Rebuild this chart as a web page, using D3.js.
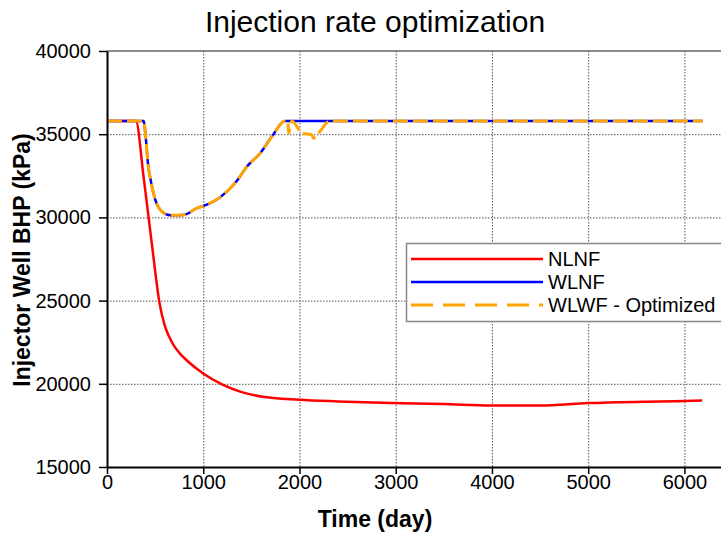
<!DOCTYPE html>
<html>
<head>
<meta charset="utf-8">
<script src="https://cdn.jsdelivr.net/npm/d3@7/dist/d3.min.js"></script>
<style>
  body { margin: 0; background: #fff; }
  svg { font-family: "Liberation Sans", Arial, sans-serif; display: block; }
</style>
</head>
<body>
<div id="chart"></div>
<script>
// tick values
var xTicks = [0, 1000, 2000, 3000, 4000, 5000, 6000];
var yTicks = [15000, 20000, 25000, 30000, 35000, 40000];

// NLNF (day, kPa)
var timeNLNF = [0, 300, 380, 465, 546, 595, 640, 700, 760, 830, 1000, 1200, 1400, 1600, 2000, 2400, 2950, 3500, 4000, 4500, 5000, 5570, 6000, 6185];
var bhpNLNF  = [35800, 35800, 32450, 28450, 24850, 23600, 22900, 22250, 21800, 21400, 20620, 19950, 19500, 19240, 19040, 18940, 18840, 18780, 18700, 18700, 18840, 18920, 18960, 19000];

// WLNF
var timeWLNF = [0, 380, 405, 425, 457, 502, 571, 657, 795, 935, 1003, 1177, 1350, 1454, 1592, 1713, 1851, 6190];
var bhpWLNF  = [35800, 35800, 34660, 33260, 32150, 31050, 30350, 30135, 30150, 30555, 30690, 31216, 32200, 33055, 33860, 34855, 35800, 35800];

// WLWF - Optimized
var timeWLWF = [0, 380, 405, 425, 457, 502, 571, 657, 795, 935, 1003, 1177, 1350, 1454, 1592, 1713, 1851, 1880, 1886, 1921, 2025, 2129, 2145, 2197, 2319, 6190];
var bhpWLWF  = [35800, 35800, 34660, 33260, 32150, 31050, 30350, 30135, 30150, 30555, 30690, 31216, 32200, 33055, 33860, 34855, 35800, 35800, 35060, 35800, 35060, 34960, 34760, 35060, 35800, 35800];

var seriesNames = ["NLNF", "WLNF", "WLWF - Optimized"];

var W = 721, H = 536;
var svg = d3.select("#chart").append("svg").attr("width", W).attr("height", H);

var x = d3.scaleLinear().domain([0, 6380]).range([107, 721]);
var y = d3.scaleLinear().domain([15000, 40000]).range([467, 51]);

// grid
svg.append("g").selectAll("line")
   .data(xTicks.slice(1))
   .enter().append("line")
   .attr("x1", d => x(d) + 0.5).attr("x2", d => x(d) + 0.5)
   .attr("y1", y(40000)).attr("y2", y(15000))
   .attr("stroke", "#555").attr("stroke-width", 1).attr("stroke-dasharray", "1.5,1.5");

svg.append("g").selectAll("line")
   .data([20000, 25000, 30000, 35000])
   .enter().append("line")
   .attr("x1", x(0)).attr("x2", W)
   .attr("y1", d => y(d) + 0.5).attr("y2", d => y(d) + 0.5)
   .attr("stroke", "#555").attr("stroke-width", 1).attr("stroke-dasharray", "1.5,1.5");

// top border
svg.append("line")
   .attr("x1", x(0)).attr("x2", W)
   .attr("y1", y(40000)).attr("y2", y(40000))
   .attr("stroke", "#666").attr("stroke-width", 1.5);

// lines
function toPts(ts, vs) { return ts.map((t, i) => [t, vs[i]]); }
var line = d3.line().x(d => x(d[0])).y(d => y(d[1])).curve(d3.curveMonotoneX);

svg.append("path").datum(toPts(timeNLNF, bhpNLNF))
   .attr("d", line).attr("fill", "none").attr("stroke", "#ff0000").attr("stroke-width", 2.5);
svg.append("path").datum(toPts(timeWLNF, bhpWLNF))
   .attr("d", line).attr("fill", "none").attr("stroke", "#0000ff").attr("stroke-width", 2.5);
svg.append("path").datum(toPts(timeWLWF, bhpWLWF))
   .attr("d", line).attr("fill", "none").attr("stroke", "#ffa500").attr("stroke-width", 3)
   .attr("stroke-dasharray", "15,5");

// axes
var fmt = d3.format("d");
var yAxis = svg.append("g")
   .attr("transform", `translate(${x(0)},0)`)
   .call(d3.axisLeft(y).tickValues(yTicks).tickFormat(fmt).tickSize(8).tickPadding(8).tickSizeOuter(0));
yAxis.select(".domain").attr("stroke", "#000").attr("stroke-width", 2);
yAxis.selectAll(".tick line").attr("stroke", "#000").attr("stroke-width", 1.5);
yAxis.selectAll("text").attr("font-size", 20).attr("fill", "#000").attr("font-family", "Liberation Sans, Arial, sans-serif");

var xAxis = svg.append("g")
   .attr("transform", `translate(0,${y(15000)})`)
   .call(d3.axisBottom(x).tickValues(xTicks).tickFormat(fmt).tickSize(7).tickPadding(1).tickSizeOuter(0));
xAxis.select(".domain").attr("stroke", "#000").attr("stroke-width", 2);
xAxis.selectAll(".tick line").attr("stroke", "#000").attr("stroke-width", 1.5);
xAxis.selectAll("text").attr("font-size", 20).attr("fill", "#000").attr("font-family", "Liberation Sans, Arial, sans-serif");

// title and labels
svg.append("text").attr("x", 375).attr("y", 32).attr("text-anchor", "middle")
   .attr("font-size", 30).text("Injection rate optimization");

svg.append("text").attr("x", 375).attr("y", 527).attr("text-anchor", "middle")
   .attr("font-size", 23).attr("font-weight", "bold").text("Time (day)");

svg.append("text").attr("transform", "translate(30,260) rotate(-90)").attr("text-anchor", "middle")
   .attr("font-size", 23).attr("font-weight", "bold").text("Injector Well BHP (kPa)");

// legend
var legend = svg.append("g");
legend.append("rect").attr("x", 406.5).attr("y", 243.5).attr("width", 330).attr("height", 78)
      .attr("fill", "#fff").attr("stroke", "#888").attr("stroke-width", 1.5);

var legColors = ["#ff0000", "#0000ff", "#ffa500"];
var legDash = [null, null, "22,10"];
var legY = [259, 282, 305];

legend.selectAll(".leg-line")
      .data(seriesNames)
      .enter().append("line")
      .attr("x1", 411).attr("x2", 543)
      .attr("y1", (d, i) => legY[i]).attr("y2", (d, i) => legY[i])
      .attr("stroke", (d, i) => legColors[i])
      .attr("stroke-width", (d, i) => i == 2 ? 3 : 2.5)
      .attr("stroke-dasharray", (d, i) => legDash[i]);

legend.selectAll(".leg-text")
      .data(seriesNames)
      .enter().append("text")
      .attr("x", 548).attr("y", (d, i) => legY[i] + 7)
      .attr("font-size", 20)
      .text(d => d);
</script>
</body>
</html>
